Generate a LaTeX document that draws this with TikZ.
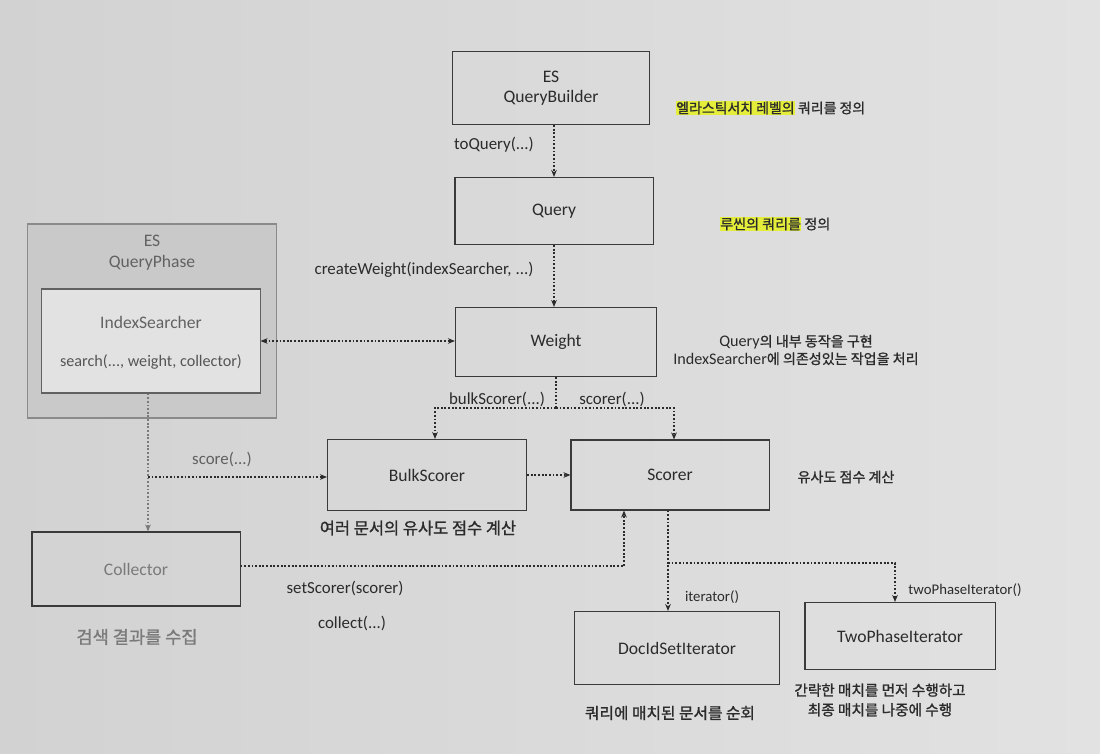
\documentclass[tikz,border=0pt]{standalone}
\usepackage{fontspec}
\setmainfont{Carlito}
\newfontfamily\kr{Noto Sans CJK KR}[FakeBold=1.2]
\usetikzlibrary{arrows.meta,calc}
\definecolor{txt}{HTML}{2B2B2B}
\definecolor{gtxt}{HTML}{7A7A7A}
\definecolor{boxc}{HTML}{3A3A3A}
\definecolor{bgl}{HTML}{D2D2D2}
\definecolor{bgr}{HTML}{E2E2E2}
\definecolor{qpfill}{HTML}{C9C9C9}
\definecolor{qpdraw}{HTML}{8A8A8A}
\definecolor{hlc}{HTML}{E4EE3A}
\begin{document}
\begin{tikzpicture}[x=0.025cm,y=-0.025cm,
  box/.style={draw=boxc, line width=0.75pt, align=center, text=txt,
    font=\fontsize{12.5}{14.5}\selectfont, inner sep=0pt},
  tip/.style={-{Stealth[length=5pt,width=4pt]}},
  conn/.style={draw=txt, line width=0.75pt, dash pattern=on 1.3pt off 1.3pt},
  gconn/.style={draw=gtxt, line width=0.75pt, dash pattern=on 1.3pt off 1.3pt},
  lbl/.style={text=txt, font=\fontsize{12}{14}\selectfont, inner sep=0pt},
  slbl/.style={text=txt, font=\fontsize{10.5}{12}\selectfont, inner sep=0pt},
  note/.style={text=txt, align=center, inner sep=0pt},
  hl/.style={fill=hlc, inner xsep=0pt, inner ysep=0.5pt}
]
\shade[left color=bgl, right color=bgr] (0,0) rectangle (1100,754);
\useasboundingbox (0,0) rectangle (1100,754);

% boxes
\node[box, minimum width=4.925cm, minimum height=1.825cm] (qb) at (551,88) {ES\\QueryBuilder};
\node[box, minimum width=4.95cm, minimum height=1.675cm] (query) at (554,211) {Query};
\node[box, minimum width=5.025cm, minimum height=1.725cm] (weight) at (556,342) {Weight};
\node[draw=qpdraw, fill=qpfill, line width=0.75pt, minimum width=6.2cm, minimum height=4.85cm, inner sep=0pt] (qp) at (152,321) {};
\node[align=center, text=gtxt!80!black, font=\fontsize{12.5}{15}\selectfont] (qpl) at (152,253) {ES\\QueryPhase};
\node[draw=boxc!80, fill=bgr, line width=0.75pt, minimum width=5.45cm, minimum height=2.6cm, inner sep=0pt] (is) at (151,341) {};
\node[text=gtxt!80!black, font=\fontsize{12.5}{14}\selectfont] (ist) at (151,322) {IndexSearcher};
\node[text=txt!80, font=\fontsize{11.5}{14}\selectfont] (iss) at (151,362) {search(..., weight, collector)};
\node[box, minimum width=4.975cm, minimum height=1.775cm] (bulk) at (427,475) {BulkScorer};
\node[box, minimum width=4.95cm, minimum height=1.75cm] (scorer) at (670,475) {Scorer};
\node[box, minimum width=5.2cm, minimum height=1.85cm, text=gtxt] (collector) at (136,569) {Collector};
\node[box, minimum width=5.125cm, minimum height=1.825cm] (docid) at (677,648) {DocIdSetIterator};
\node[box, minimum width=4.75cm, minimum height=1.675cm] (twophase) at (900,636) {TwoPhaseIterator};

% connectors
\draw[conn, tip] (qb.south -| query.south) -- (query.north);
\draw[conn, tip] (query.south) -- (query.south |- weight.north);
\draw[conn, {Stealth[length=5pt,width=4pt]}-{Stealth[length=5pt,width=4pt]}] (is.east) -- (is.east -| weight.west);
\coordinate (wsplit) at (556,408);
\draw[conn] (weight.south) -- (wsplit);
\draw[conn, tip] (wsplit) -| ([xshift=0.2cm]bulk.north);
\draw[conn, tip] (wsplit) -| ([xshift=0.1cm]scorer.north);
\coordinate (sc) at (148,477);
\draw[gconn, tip] (is.south -| sc) -- (sc |- collector.north);
\draw[conn, tip] (sc) -- (sc -| bulk.west);
\draw[conn, tip] (bulk.east) -- (scorer.west);
\draw[conn, tip] ([yshift=0.075cm]collector.east) -| ([xshift=-1.15cm]scorer.south);
\coordinate (ssplit) at (668,563);
\draw[conn, tip] (scorer.south -| ssplit) -- (ssplit |- docid.north);
\draw[conn, tip] (ssplit) -| ([xshift=-0.125cm]twophase.north);

% connector labels
\node[lbl] (l1) at (494,145) {toQuery(...)};
\node[lbl] (l2) at (424,270) {createWeight(indexSearcher, ...)};
\node[lbl] (l3) at (497,399) {bulkScorer(...)};
\node[lbl] (l4) at (612,399) {scorer(...)};
\node[lbl, text=txt!75] (l5) at (222,459) {score(...)};
\node[lbl] (l6) at (345,588) {setScorer(scorer)};
\node[lbl] (l7) at (352,623) {collect(...)};
\node[slbl] (l8) at (712,597) {iterator()};
\node[slbl] (l9) at (965,590) {twoPhaseIterator()};

% annotations
\node[note, hl, anchor=west, font=\kr\fontsize{9.9}{12}\selectfont] (n1a) at (676,108) {엘라스틱서치 레벨의};
\node[note, anchor=base west, font=\kr\fontsize{9.9}{12}\selectfont] (n1b) at ([xshift=0.07cm]n1a.base east) {쿼리를 정의};
\node[note, hl, anchor=west, font=\kr\fontsize{10}{12}\selectfont] (n2a) at (720,224) {루씬의 쿼리를};
\node[note, anchor=base west, font=\kr\fontsize{10}{12}\selectfont] (n2b) at ([xshift=0.07cm]n2a.base east) {정의};
\node[note, font=\kr\fontsize{10}{12.5}\selectfont] (n3) at (796,350) {{\rmfamily\fontsize{11.5}{12.5}\selectfont Query}의 내부 동작을 구현\\{\rmfamily\fontsize{11.5}{12.5}\selectfont IndexSearcher}에 의존성있는 작업을 처리};
\node[note, font=\kr\fontsize{10}{12}\selectfont] (n4) at (846,477) {유사도 점수 계산};
\node[note, font=\kr\fontsize{11.7}{14}\selectfont] (n5) at (418,528) {여러 문서의 유사도 점수 계산};
\node[note, text=gtxt, font=\kr\fontsize{12.5}{14}\selectfont] (n6) at (137,637) {검색 결과를 수집};
\node[note, font=\kr\fontsize{11.2}{14}\selectfont] (n7) at (670,713) {쿼리에 매치된 문서를 순회};
\node[note, font=\kr\fontsize{10.4}{14}\selectfont] (n8) at (880,700) {간략한 매치를 먼저 수행하고\\최종 매치를 나중에 수행};
\end{tikzpicture}
\end{document}
